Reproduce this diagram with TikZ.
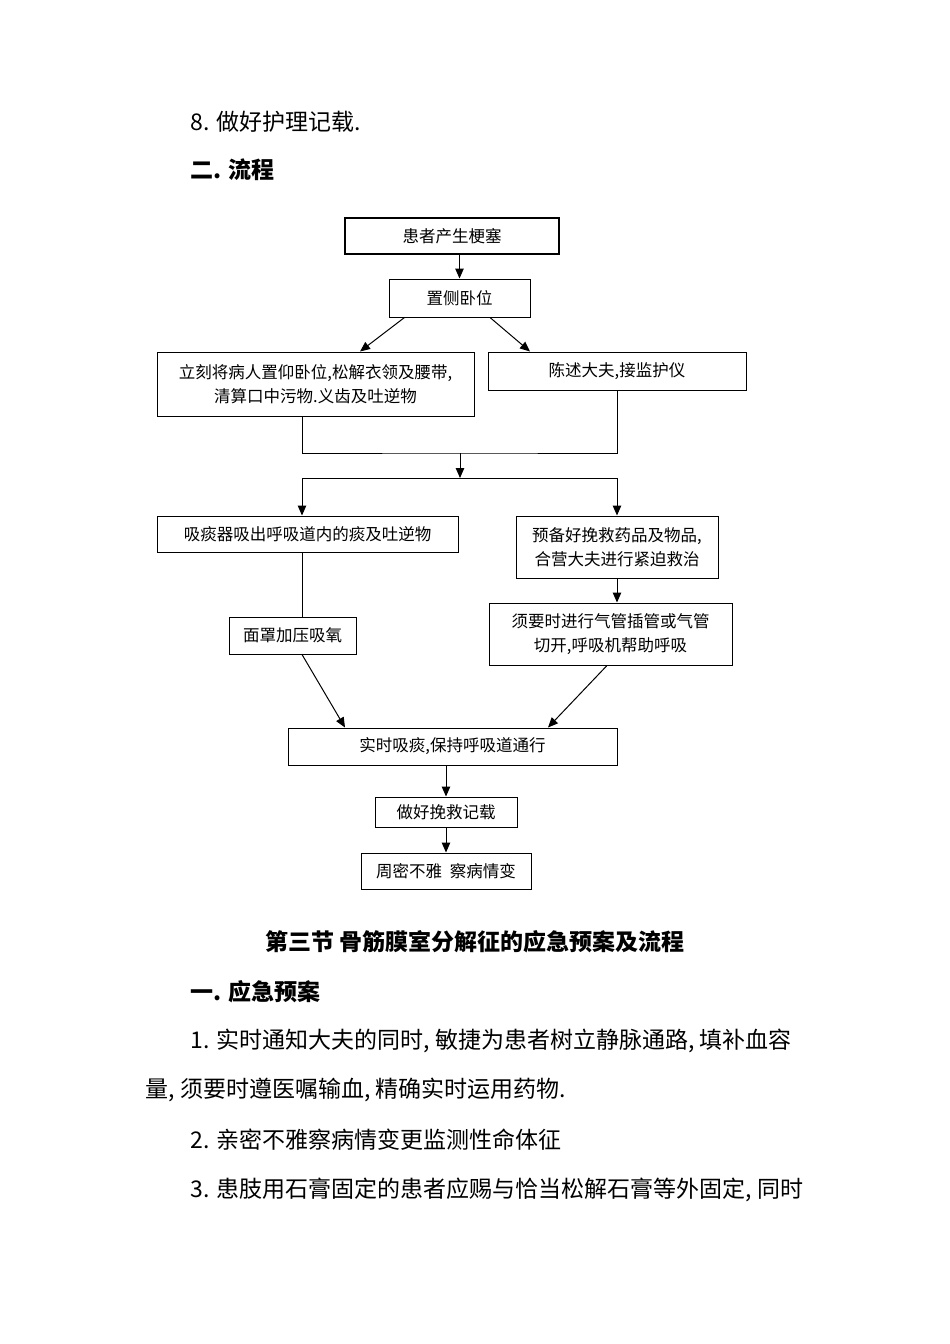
\documentclass[tikz,border=0pt]{standalone}
\usepackage{fontspec}
\setmainfont{Noto Sans CJK SC}
\newfontfamily\cjk{Noto Sans CJK SC}
\usetikzlibrary{arrows.meta}
\begin{document}
\begin{tikzpicture}[
        x=1pt, y=-1pt,
        >={Triangle[length=10pt, width=8.5pt]},
        every path/.style={line width=1pt},
        box/.style={draw, line width=1pt, inner sep=0pt, align=center,
            font=\cjk\fontsize{16.5}{24}\selectfont},
        body/.style={anchor=west, inner sep=0pt, font=\cjk\fontsize{23}{30}\selectfont},
        head/.style={inner sep=0pt, font=\cjk\bfseries\fontsize{23}{30}\selectfont}
    ]
        \useasboundingbox (0,0) rectangle (950,1344);

        % 上面的正文
        \node [body] (item8) at (190,122) {8. 做好护理记载.};
        \node [head, anchor=west] (sec2) at (190,170) {二. 流程};

        % 流程图
        \node [box, line width=1.8pt, minimum width=214pt, minimum height=36pt] (start) at (452,236) {患者产生梗塞};
        \node [box, minimum width=141pt, minimum height=38pt] (side) at (459.5,298) {置侧卧位};
        \node [box, minimum width=317pt, minimum height=64pt] (supine) at (315.5,384)
            {立刻将病人置仰卧位,松解衣领及腰带,\\清算口中污物.义齿及吐逆物};
        \node [box, minimum width=258pt, minimum height=38pt] (doctor) at (617,371) {陈述大夫,接监护仪};
        \node [box, minimum width=301pt, minimum height=36pt] (suction) at (307.5,534) {吸痰器吸出呼吸道内的痰及吐逆物};
        \node [box, minimum width=202pt, minimum height=62pt] (drugs) at (617,547)
            {预备好挽救药品及物品,\\合营大夫进行紧迫救治};
        \node [box, minimum width=127pt, minimum height=37pt] (mask) at (292.5,635.5) {面罩加压吸氧};
        \node [box, minimum width=243pt, minimum height=62pt] (intub) at (610.5,634)
            {须要时进行气管插管或气管\\切开,呼吸机帮助呼吸};
        \node [box, minimum width=329pt, minimum height=37pt] (clear) at (452.5,746.5) {实时吸痰,保持呼吸道通行};
        \node [box, minimum width=142pt, minimum height=30pt] (record) at (446,812) {做好挽救记载};
        \node [box, minimum width=170pt, minimum height=36pt] (observe) at (446,871) {周密不雅\hspace{8pt}察病情变};

        \coordinate (join) at (460,453);
        \coordinate (split) at (460,478);

        % 连线
        \draw[->] (start.south -| side) -- (side.north);
        \draw[->] ([xshift=-55pt]side.south) -- ([xshift=44.5pt]supine.north);
        \draw[->] ([xshift=30.5pt]side.south) -- ([xshift=-87pt]doctor.north);
        \draw ([xshift=-13.5pt]supine.south) |- (join) -| (doctor.south);
        \draw[->] (join) -- (split);
        \draw[->] (split) -| ([xshift=-5.5pt]suction.north);
        \draw[->] (split) -| (drugs.north);
        \draw ([xshift=-5.5pt]suction.south) -- ([xshift=-5.5pt]suction.south |- mask.north);
        \draw[->] (drugs.south) -- (drugs.south |- intub.north);
        \draw[->] ([xshift=9.5pt]mask.south) -- ([xshift=-107.5pt]clear.north);
        \draw[->] ([xshift=-3.5pt]intub.south) -- ([xshift=95.5pt]clear.north);
        \draw[->] (record.north |- clear.south) -- (record.north);
        \draw[->] (record.south) -- (observe.north);

        % 下一节
        \node [head] (sec3) at (475,942) {第三节\ 骨筋膜室分解征的应急预案及流程};
        \node [head, anchor=west] (plan) at (190,992) {一. 应急预案};
        \node [body] (line1) at (190,1041) {1. 实时通知大夫的同时, 敏捷为患者树立静脉通路, 填补血容};
        \node [body] (line2) at (145,1090) {量, 须要时遵医嘱输血, 精确实时运用药物.};
        \node [body] (line3) at (190,1140) {2. 亲密不雅察病情变更监测性命体征};
        \node [body] (line4) at (190,1190) {3. 患肢用石膏固定的患者应赐与恰当松解石膏等外固定, 同时};
    \end{tikzpicture}
\end{document}
